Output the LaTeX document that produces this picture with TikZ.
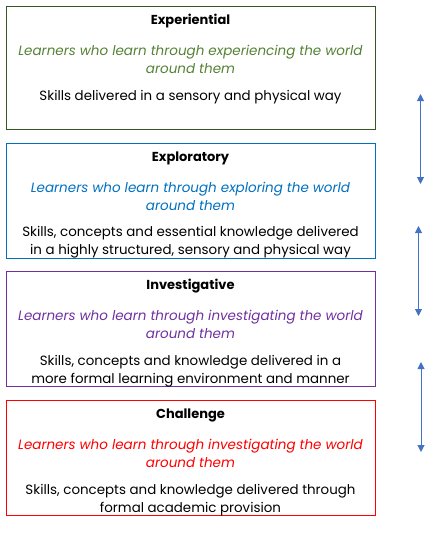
\documentclass[tikz,border=0pt]{standalone}
\usepackage{fontspec}
\setmainfont{Poppins}
\usetikzlibrary{arrows.meta}
\definecolor{gborder}{HTML}{375623}
\definecolor{gtext}{HTML}{548235}
\definecolor{bline}{HTML}{0070C0}
\definecolor{pline}{HTML}{7030A0}
\definecolor{rline}{HTML}{FF0000}
\definecolor{arrowc}{HTML}{4472C4}
\tikzset{
  stagebox/.style={draw, line width=1pt, minimum width=369pt, inner sep=0pt},
  title/.style={font=\fontsize{13}{18}\selectfont\bfseries, inner sep=0pt},
  desc/.style={font=\fontsize{13.5}{18}\selectfont\itshape, align=center, inner sep=0pt},
  body/.style={font=\fontsize{13.4}{18}\selectfont, align=center, inner sep=0pt},
  link/.style={draw=arrowc, line width=1pt, {Triangle[width=7pt,length=7pt]}-{Triangle[width=7pt,length=7pt]}}
}
\begin{document}
\begin{tikzpicture}[x=1pt,y=-1pt]
\useasboundingbox (0,0) rectangle (437,533);
\node[stagebox, draw=gborder, minimum height=122.5pt] (b1) at (191,67.75) {};
\node[stagebox, draw=bline, minimum height=115pt] (b2) at (191,200.75) {};
\node[stagebox, draw=pline, minimum height=115pt] (b3) at (191,328.75) {};
\node[stagebox, draw=rline, minimum height=115pt] (b4) at (191,457.75) {};

\node[title] (t1) at (190.5,21.5) {Experiential};
\node[desc, text=gtext] (d1) at (190.5,59.5) {Learners who learn through experiencing the world\\around them};
\node[body] (s1) at (190.5,97.5) {Skills delivered in a sensory and physical way};

\node[title] (t2) at (190.5,158.5) {Exploratory};
\node[desc, text=bline] (d2) at (190.5,196.5) {Learners who learn through exploring the world\\around them};
\node[body] (s2) at (190.5,242.5) {Skills, concepts and essential knowledge delivered\\in a highly structured, sensory and physical way};

\node[title] (t3) at (190.5,286.5) {Investigative};
\node[desc, text=pline] (d3) at (190.5,324.5) {Learners who learn through investigating the world\\around them};
\node[body] (s3) at (190.5,371) {Skills, concepts and knowledge delivered in a\\more formal learning environment and manner};

\node[title] (t4) at (190.5,415.5) {Challenge};
\node[desc, text=rline] (d4) at (190.5,453.5) {Learners who learn through investigating the world\\around them};
\node[body] (s4) at (190.5,500.5) {Skills, concepts and knowledge delivered through\\formal academic provision};

\coordinate (a1t) at (420.5,94);
\coordinate (a1b) at (420.5,184);
\coordinate (a2t) at (418.5,226);
\coordinate (a2b) at (418.5,316);
\coordinate (a3t) at (421,362);
\coordinate (a3b) at (421,452);
\draw[link] (a1t) -- (a1b);
\draw[link] (a2t) -- (a2b);
\draw[link] (a3t) -- (a3b);
\end{tikzpicture}
\end{document}
